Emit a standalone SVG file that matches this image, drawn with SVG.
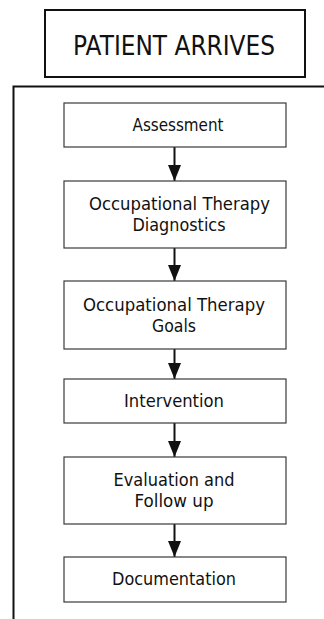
<svg xmlns="http://www.w3.org/2000/svg" width="324" height="619" viewBox="0 0 324 619">
<style>
.box{fill:#fff;stroke:#3a3a3a;stroke-width:1.2}
.t{font-family:"DejaVu Sans",Verdana,sans-serif;font-size:17px;fill:#111;text-anchor:middle}
.conn{stroke:#111;stroke-width:2;fill:none}
</style>
<defs>
<marker id="ah" markerUnits="userSpaceOnUse" markerWidth="16" markerHeight="13" refX="16" refY="6.5" orient="auto">
<path d="M0,0 L16,6.5 L0,13 Z" fill="#111"/>
</marker>
</defs>
<rect width="324" height="619" fill="#fff"/>
<g id="patient-arrives">
<rect x="45" y="10" width="260" height="67" fill="#fff" stroke="#111" stroke-width="2"/>
<text x="174" y="55" font-family="'DejaVu Sans',Verdana,sans-serif" font-size="26" fill="#111" text-anchor="middle" textLength="202" lengthAdjust="spacingAndGlyphs">PATIENT ARRIVES</text>
</g>
<g id="bracket">
<path d="M13.5,619 V86.5 H324" fill="none" stroke="#111" stroke-width="2"/>
</g>
<g id="connectors">
<line class="conn" x1="174.5" y1="147" x2="174.5" y2="181" marker-end="url(#ah)"/>
<line class="conn" x1="174.5" y1="248" x2="174.5" y2="281" marker-end="url(#ah)"/>
<line class="conn" x1="174.5" y1="349" x2="174.5" y2="379" marker-end="url(#ah)"/>
<line class="conn" x1="174.5" y1="423" x2="174.5" y2="457" marker-end="url(#ah)"/>
<line class="conn" x1="174.5" y1="524" x2="174.5" y2="557" marker-end="url(#ah)"/>
</g>
<g id="assessment">
<rect class="box" x="64" y="103" width="222" height="44"/>
<text class="t" x="178" y="131" textLength="91" lengthAdjust="spacingAndGlyphs">Assessment</text>
</g>
<g id="ot-diagnostics">
<rect class="box" x="64" y="181" width="222" height="67"/>
<text class="t" x="179.5" y="209.5" textLength="181" lengthAdjust="spacingAndGlyphs">Occupational Therapy</text>
<text class="t" x="179" y="230.5" textLength="93" lengthAdjust="spacingAndGlyphs">Diagnostics</text>
</g>
<g id="ot-goals">
<rect class="box" x="64" y="281" width="222" height="68"/>
<text class="t" x="174" y="311" textLength="182" lengthAdjust="spacingAndGlyphs">Occupational Therapy</text>
<text class="t" x="174" y="332" textLength="44" lengthAdjust="spacingAndGlyphs">Goals</text>
</g>
<g id="intervention">
<rect class="box" x="64" y="379" width="222" height="44"/>
<text class="t" x="174" y="406.5" textLength="100" lengthAdjust="spacingAndGlyphs">Intervention</text>
</g>
<g id="evaluation">
<rect class="box" x="64" y="457" width="222" height="67"/>
<text class="t" x="174" y="486" textLength="121" lengthAdjust="spacingAndGlyphs">Evaluation and</text>
<text class="t" x="174" y="507" textLength="79" lengthAdjust="spacingAndGlyphs">Follow up</text>
</g>
<g id="documentation">
<rect class="box" x="64" y="557" width="222" height="45"/>
<text class="t" x="174" y="585" textLength="124" lengthAdjust="spacingAndGlyphs">Documentation</text>
</g>
</svg>
